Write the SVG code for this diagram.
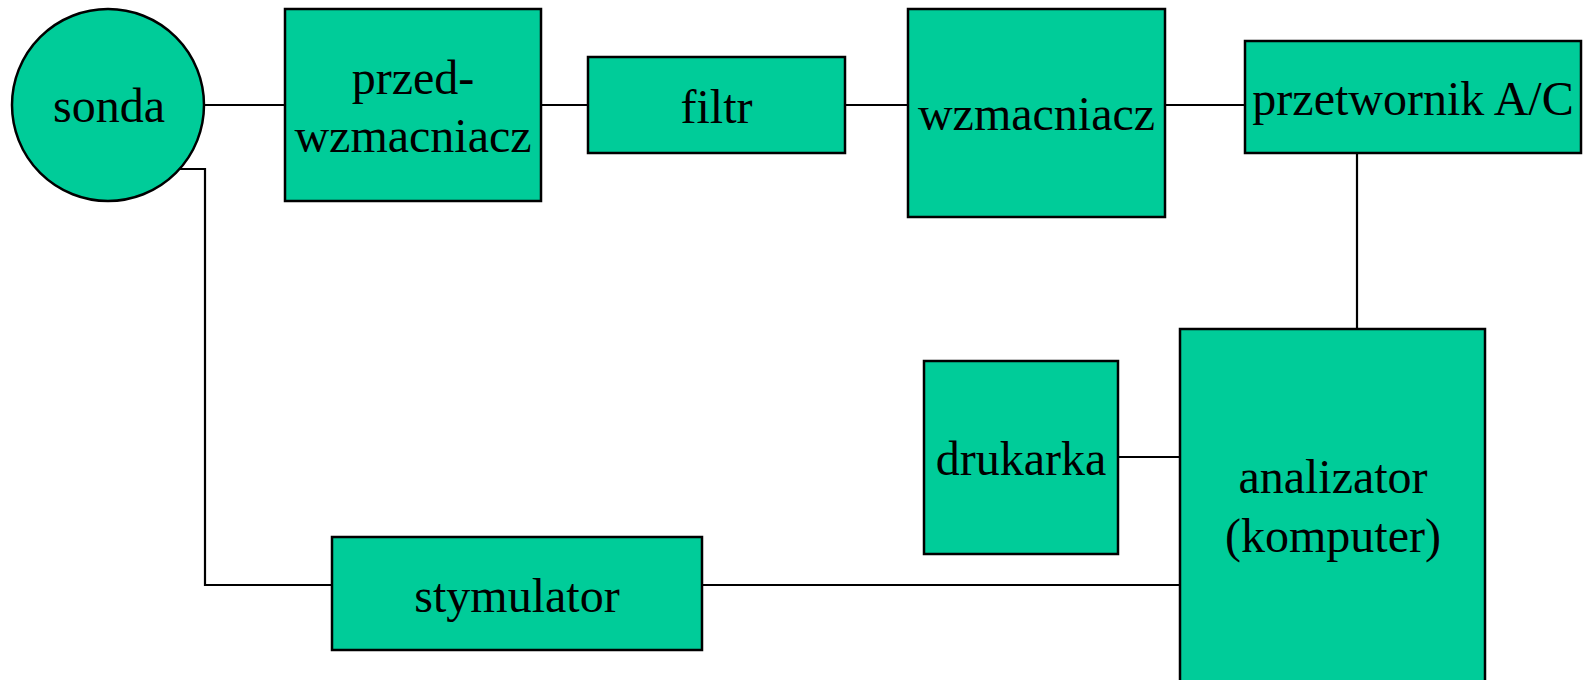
<svg xmlns="http://www.w3.org/2000/svg" width="1588" height="680" viewBox="0 0 1588 680">
<style>
.n{fill:#00CC99;stroke:#000;stroke-width:2.5}
.t{font-family:"Liberation Serif","Times New Roman",serif;font-size:48px;fill:#000;text-anchor:middle}
.c{fill:none;stroke:#000;stroke-width:2.2}
</style>
<rect width="1588" height="680" fill="#fff"/>
<g id="connectors">
<line class="c" x1="204" y1="105" x2="285" y2="105"/>
<line class="c" x1="541" y1="105" x2="588" y2="105"/>
<line class="c" x1="845" y1="105" x2="908" y2="105"/>
<line class="c" x1="1165" y1="105" x2="1245" y2="105"/>
<line class="c" x1="1357" y1="153" x2="1357" y2="329"/>
<line class="c" x1="1118" y1="457" x2="1180" y2="457"/>
<line class="c" x1="702" y1="585" x2="1180" y2="585"/>
<polyline class="c" points="173,169 205,169 205,585 332,585"/>
</g>
<g id="sonda">
<circle class="n" cx="108" cy="105" r="96"/>
<text class="t" x="109" y="122">sonda</text>
</g>
<g id="przedwzmacniacz">
<rect class="n" x="285" y="9" width="256" height="192"/>
<text class="t" x="413" y="94">przed-</text>
<text class="t" x="413" y="152">wzmacniacz</text>
</g>
<g id="filtr">
<rect class="n" x="588" y="57" width="257" height="96"/>
<text class="t" x="716.5" y="123">filtr</text>
</g>
<g id="wzmacniacz">
<rect class="n" x="908" y="9" width="257" height="208"/>
<text class="t" x="1036.5" y="130">wzmacniacz</text>
</g>
<g id="przetwornik">
<rect class="n" x="1245" y="41" width="336" height="112"/>
<text class="t" x="1413" y="115">przetwornik A/C</text>
</g>
<g id="drukarka">
<rect class="n" x="924" y="361" width="194" height="193"/>
<text class="t" x="1021" y="475">drukarka</text>
</g>
<g id="analizator">
<rect class="n" x="1180" y="329" width="305" height="370"/>
<text class="t" x="1333" y="493">analizator</text>
<text class="t" x="1333" y="552">(komputer)</text>
</g>
<g id="stymulator">
<rect class="n" x="332" y="537" width="370" height="113"/>
<text class="t" x="517" y="612">stymulator</text>
</g>
</svg>
